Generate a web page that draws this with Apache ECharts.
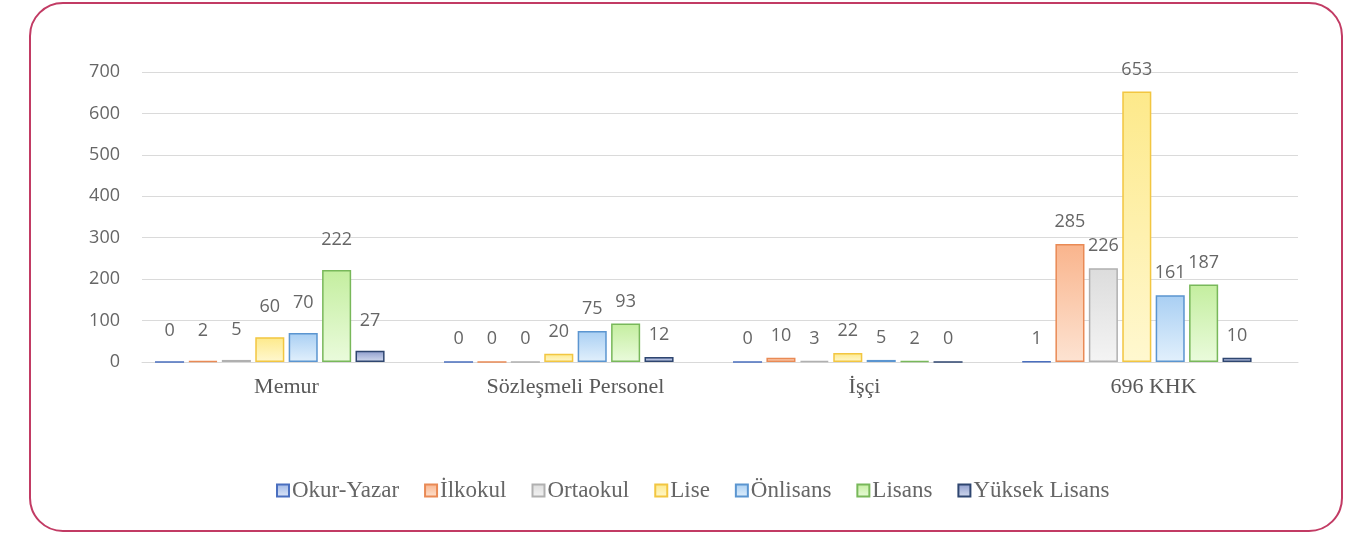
<!DOCTYPE html>
<html>
<head>
<meta charset="utf-8">
<script src="https://cdn.jsdelivr.net/npm/echarts@6/dist/echarts.min.js"></script>
<style>
html, body { margin: 0; padding: 0; background: #fff; }
#frame {
    position: absolute; left: 29px; top: 2px; width: 1314px; height: 530px;
    border: 2px solid #c23b64; border-radius: 34px; box-sizing: border-box;
}
#container { position: absolute; left: 0; top: 0; width: 1354px; height: 536px; }
</style>
</head>
<body>
<div id="frame"></div>
<div id="container"></div>
<script>
var categories = ['Memur', 'Sözleşmeli Personel', 'İşçi', '696 KHK'];
var seriesNames = ['Okur-Yazar', 'İlkokul', 'Ortaokul', 'Lise', 'Önlisans', 'Lisans', 'Yüksek Lisans'];
var okurYazar = [0, 0, 0, 1];
var ilkokul = [2, 0, 10, 285];
var ortaokul = [5, 0, 3, 226];
var lise = [60, 20, 22, 653];
var onlisans = [70, 75, 5, 161];
var lisans = [222, 93, 2, 187];
var yuksekLisans = [27, 12, 0, 10];
// the original sheet has an empty 8th column, which pushes the bars left
var emptySlot = [null, null, null, null];
var yTicks = [0, 100, 200, 300, 400, 500, 600, 700];

var values = [okurYazar, ilkokul, ortaokul, lise, onlisans, lisans, yuksekLisans];
var borders = ['#4a6fbf', '#e98a55', '#b0b0b0', '#f2c641', '#5b95d0', '#78b85a', '#2f4670'];
var tops = ['#9fb7e6', '#f9b48c', '#dcdcdc', '#fde98a', '#a9cff3', '#c4ee9f', '#8d9ccc'];
var bottoms = ['#dfe8f8', '#fde3d2', '#f4f4f4', '#fff8d0', '#e2f0fc', '#eafbdc', '#d4dcf0'];
// labels in the first group sit a bit higher in the original
var labelLift = [8, 0, 0, 0];

var dom = document.getElementById('container');
var myChart = echarts.init(dom);

var series = [];
for (var i = 0; i < seriesNames.length; i++) {
    var items = values[i].map(function(v, k) {
        return { value: v, label: { offset: [0, -labelLift[k]] } };
    });
    series.push({
        name: seriesNames[i],
        type: 'bar',
        data: items,
        barGap: '15%',
        barCategoryGap: '9%',
        itemStyle: {
            color: new echarts.graphic.LinearGradient(0, 0, 0, 1, [
                { offset: 0, color: tops[i] },
                { offset: 1, color: bottoms[i] }
            ]),
            borderColor: borders[i],
            borderWidth: 1.5
        },
        label: {
            show: true,
            position: 'top',
            distance: 13,
            color: '#666666',
            fontFamily: 'Open Sans',
            fontSize: 18
        }
    });
}
series.push({
    name: 'empty',
    type: 'bar',
    data: emptySlot,
    barGap: '15%',
    barCategoryGap: '9%'
});

var option = {
    backgroundColor: 'transparent',
    animation: false,
    grid: { left: 142, right: 56, top: 72, bottom: 174 },
    legend: {
        top: 474,
        left: 271,
        itemWidth: 12,
        itemHeight: 12,
        itemGap: 25,
        icon: 'rect',
        textStyle: { fontFamily: 'Liberation Serif', fontSize: 23, color: '#666666', padding: [0, 0, 0, -2] },
        data: seriesNames
    },
    xAxis: {
        type: 'category',
        data: categories,
        axisLine: { show: true, lineStyle: { color: '#d9d9d9' } },
        axisTick: { show: false },
        axisLabel: { fontFamily: 'Liberation Serif', fontSize: 22, color: '#595959', margin: 14 }
    },
    yAxis: {
        type: 'value',
        min: yTicks[0],
        max: yTicks[yTicks.length - 1],
        interval: 100,
        axisLine: { show: false },
        axisTick: { show: false },
        splitLine: { lineStyle: { color: '#dadada' } },
        axisLabel: { fontFamily: 'Open Sans', fontSize: 18, color: '#666666', margin: 22 }
    },
    series: series
};

myChart.setOption(option, true);
</script>
</body>
</html>
